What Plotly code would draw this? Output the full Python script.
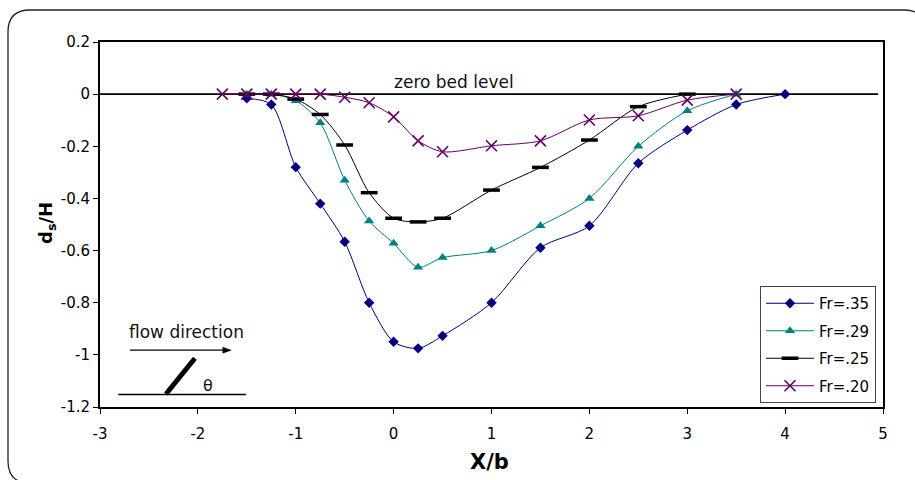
import plotly.graph_objects as go

# Relative distance along the flume (X/b) and scour depth (ds/H) per Froude number
x_fr35 = [-1.5, -1.25, -1.0, -0.75, -0.5, -0.25, 0.0, 0.25, 0.5, 1.0, 1.5, 2.0, 2.5, 3.0, 3.5, 4.0]
y_fr35 = [-0.016, -0.04, -0.28, -0.42, -0.566, -0.80, -0.95, -0.975, -0.927, -0.80, -0.589, -0.505, -0.265, -0.138, -0.04, 0.0]

x_fr29 = [-1.5, -1.25, -1.0, -0.75, -0.5, -0.25, 0.0, 0.25, 0.5, 1.0, 1.5, 2.0, 2.5, 3.0, 3.5]
y_fr29 = [0.0, 0.0, -0.025, -0.11, -0.33, -0.487, -0.572, -0.664, -0.627, -0.60, -0.505, -0.40, -0.20, -0.064, 0.0]

x_fr25 = [-1.5, -1.25, -1.0, -0.75, -0.5, -0.25, 0.0, 0.25, 0.5, 1.0, 1.5, 2.0, 2.5, 3.0]
y_fr25 = [0.0, 0.0, -0.019, -0.078, -0.195, -0.378, -0.476, -0.49, -0.476, -0.368, -0.281, -0.176, -0.048, 0.0]

x_fr20 = [-1.75, -1.5, -1.25, -1.0, -0.75, -0.5, -0.25, 0.0, 0.25, 0.5, 1.0, 1.5, 2.0, 2.5, 3.0, 3.5]
y_fr20 = [0.0, 0.0, 0.0, 0.0, 0.0, -0.012, -0.033, -0.087, -0.179, -0.221, -0.198, -0.179, -0.099, -0.083, -0.023, 0.0]

series_names = ["Fr=.35", "Fr=.29", "Fr=.25", "Fr=.20"]

x_ticks = [-3, -2, -1, 0, 1, 2, 3, 4, 5]
x_tick_text = ["-3", "-2", "-1", "0", "1", "2", "3", "4", "5"]
y_ticks = [0.2, 0, -0.2, -0.4, -0.6, -0.8, -1.0, -1.2]
y_tick_text = ["0.2", "0", "-0.2", "-0.4", "-0.6", "-0.8", "-1", "-1.2"]

FONT = "DejaVu Sans, Arial, sans-serif"

# figure geometry in pixels
W, H = 915, 480
L, R, T, B = 100, 32, 42, 73


def px2paper(px, py):
    return (px - L) / (W - L - R), (H - B - py) / (H - T - B)


def rounded_frame(x0, y0, x1, y1, r):
    def p(px, py):
        a, b = px2paper(px, py)
        return f"{a:.5f},{b:.5f}"
    return (f"M {p(x0 + r, y0)} L {p(x1 - r, y0)} Q {p(x1, y0)} {p(x1, y0 + r)} "
            f"L {p(x1, y1 - r)} Q {p(x1, y1)} {p(x1 - r, y1)} L {p(x0 + r, y1)} "
            f"Q {p(x0, y1)} {p(x0, y1 - r)} L {p(x0, y0 + r)} Q {p(x0, y0)} {p(x0 + r, y0)} Z")


fig = go.Figure()

styles = [
    (x_fr35, y_fr35, "#000080", dict(symbol="diamond", size=8, color="#000080")),
    (x_fr29, y_fr29, "#008080", dict(symbol="triangle-up", size=9, color="#008080")),
    (x_fr25, y_fr25, "#000000", dict(symbol="line-ew", size=12, color="#000000",
                                     line=dict(width=3.5, color="#000000"))),
    (x_fr20, y_fr20, "#660066", dict(symbol="x-thin", size=11, color="#660066",
                                     line=dict(width=1.6, color="#660066"))),
]

for i, (xs, ys, col, mk) in enumerate(styles):
    fig.add_trace(go.Scatter(
        x=xs, y=ys, mode="lines+markers", name=series_names[i],
        legendgroup=f"g{i}",
        line=dict(color=col, width=1, shape="spline", smoothing=0.8),
        marker=mk,
    ))

# zero bed level reference line
fig.add_shape(type="line", xref="x", yref="y", x0=-3, x1=4.95, y0=0, y1=0,
              line=dict(color="black", width=1.8), layer="below")
fig.add_annotation(x=0.62, y=0.002, xref="x", yref="y", text="zero bed level",
                   showarrow=False, yanchor="bottom",
                   font=dict(family=FONT, size=17, color="#111111"))

# flow direction sketch with the inclined sill
fig.add_annotation(x=-2.12, y=-0.912, xref="x", yref="y", text="flow direction",
                   showarrow=False, font=dict(family=FONT, size=17, color="#111111"))
fig.add_shape(type="line", xref="x", yref="y", x0=-2.694, x1=-1.70, y0=-0.982, y1=-0.982,
              line=dict(color="black", width=1.3))
fig.add_shape(type="path", xref="x", yref="y",
              path="M -1.66,-0.982 L -1.745,-0.9705 L -1.745,-0.9935 Z",
              fillcolor="black", line=dict(color="black", width=0.5))
fig.add_shape(type="line", xref="x", yref="y", x0=-2.813, x1=-1.509, y0=-1.152, y1=-1.152,
              line=dict(color="black", width=1.5))
fig.add_shape(type="line", xref="x", yref="y", x0=-2.326, x1=-2.03, y0=-1.15, y1=-1.013,
              line=dict(color="black", width=5))
fig.add_annotation(x=-1.9, y=-1.116, xref="x", yref="y", text="θ", showarrow=False,
                   font=dict(family=FONT, size=16, color="#111111"))

# axis titles
fig.add_annotation(x=px2paper(489, 0)[0], y=px2paper(0, 462)[1], xref="paper", yref="paper",
                   text="<b>X/b</b>", showarrow=False, yanchor="middle",
                   font=dict(family=FONT, size=21, color="black"))
fig.add_annotation(x=px2paper(33, 0)[0], y=px2paper(0, 223)[1], xref="paper", yref="paper",
                   text="<b>d<sub>s</sub>/H</b>", showarrow=False, textangle=-90,
                   font=dict(family=FONT, size=18, color="black"))

# rounded outer chart frame
fig.add_shape(type="path", xref="paper", yref="paper",
              path=rounded_frame(8, 10, 926, 483, 22),
              line=dict(color="#222222", width=1.3), layer="below")

fig.update_layout(
    width=W, height=H,
    margin=dict(l=L, r=R, t=T, b=B),
    paper_bgcolor="white", plot_bgcolor="white",
    font=dict(family=FONT, size=15, color="black"),
    showlegend=True,
    legend=dict(x=px2paper(760, 0)[0], y=px2paper(0, 286)[1], xanchor="left", yanchor="top",
                bgcolor="white", bordercolor="#444444", borderwidth=1,
                font=dict(family=FONT, size=15, color="black"),
                tracegroupgap=5, itemwidth=48),
    xaxis=dict(range=[-3, 5], tickvals=x_ticks, ticktext=x_tick_text,
               showgrid=False, zeroline=False, showline=True, linecolor="black",
               linewidth=1.5, mirror=True, ticks="outside", ticklen=5,
               tickcolor="black", tickfont=dict(family=FONT, size=15),
               ticklabelstandoff=7),
    yaxis=dict(range=[-1.2, 0.2], tickvals=y_ticks, ticktext=y_tick_text,
               showgrid=False, zeroline=False, showline=True, linecolor="black",
               linewidth=2, mirror=True, ticks="outside", ticklen=5,
               tickcolor="black", tickfont=dict(family=FONT, size=15)),
)

fig.write_html("out.html")
